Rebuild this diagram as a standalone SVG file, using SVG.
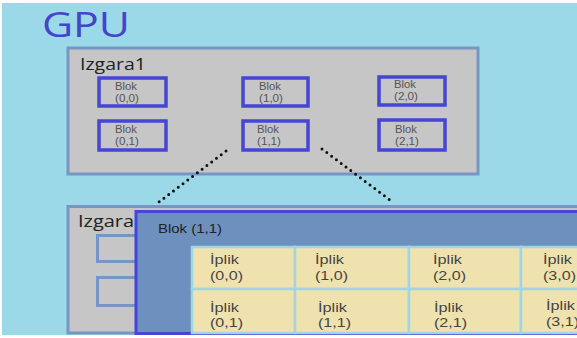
<svg xmlns="http://www.w3.org/2000/svg" width="577" height="338" viewBox="0 0 577 338">
<style>
.grid{fill:#c6c6c6;stroke:#7896c4;stroke-width:3}
.blk{fill:none;stroke:#4646d6;stroke-width:3.5}
.sub{fill:none;stroke:#7896c4;stroke-width:3}
.bt{font-family:"Liberation Sans",Arial,sans-serif;font-size:10.5px;fill:#555}
.lbl{font-family:"Open Sans","Liberation Sans",sans-serif;font-size:16px;fill:#222}
.cell{fill:#f0e2ae;stroke:#9ed6e6;stroke-width:2.5}
.tt{font-family:"Liberation Sans",Arial,sans-serif;font-size:13px;fill:#444}
.dot{fill:none;stroke:#111;stroke-width:3;stroke-linecap:round;stroke-dasharray:0 6}
</style>
<rect width="577" height="338" fill="#ffffff"/>
<rect x="2" y="3" width="575" height="332" fill="#9bd9e9"/>
<text x="42" y="37" font-family="Open Sans,Liberation Sans,sans-serif" font-size="34" fill="#4444cc" textLength="88" lengthAdjust="spacingAndGlyphs">GPU</text>
<g id="izgara1">
<rect class="grid" x="68" y="48" width="410" height="126"/>
<text class="lbl" x="80" y="70" textLength="66" lengthAdjust="spacingAndGlyphs">Izgara1</text>
</g>
<g id="blok00"><rect class="blk" x="99" y="78" width="67" height="28"/><text class="bt"><tspan x="115" y="90" textLength="22" lengthAdjust="spacingAndGlyphs">Blok</tspan><tspan x="115" y="102" textLength="24" lengthAdjust="spacingAndGlyphs">(0,0)</tspan></text></g>
<g id="blok10"><rect class="blk" x="243" y="78" width="65" height="28"/><text class="bt"><tspan x="259" y="90" textLength="22" lengthAdjust="spacingAndGlyphs">Blok</tspan><tspan x="259" y="102" textLength="24" lengthAdjust="spacingAndGlyphs">(1,0)</tspan></text></g>
<g id="blok20"><rect class="blk" x="379" y="77" width="66" height="28"/><text class="bt"><tspan x="394" y="88" textLength="22" lengthAdjust="spacingAndGlyphs">Blok</tspan><tspan x="394" y="100" textLength="24" lengthAdjust="spacingAndGlyphs">(2,0)</tspan></text></g>
<g id="blok01"><rect class="blk" x="99" y="121" width="67" height="29"/><text class="bt"><tspan x="115" y="133" textLength="22" lengthAdjust="spacingAndGlyphs">Blok</tspan><tspan x="115" y="145" textLength="24" lengthAdjust="spacingAndGlyphs">(0,1)</tspan></text></g>
<g id="blok11"><rect class="blk" x="243" y="121" width="65" height="29"/><text class="bt"><tspan x="257" y="133" textLength="22" lengthAdjust="spacingAndGlyphs">Blok</tspan><tspan x="257" y="145" textLength="24" lengthAdjust="spacingAndGlyphs">(1,1)</tspan></text></g>
<g id="blok21"><rect class="blk" x="379" y="120" width="66" height="30"/><text class="bt"><tspan x="395" y="133" textLength="22" lengthAdjust="spacingAndGlyphs">Blok</tspan><tspan x="395" y="145" textLength="24" lengthAdjust="spacingAndGlyphs">(2,1)</tspan></text></g>
<g id="connectors">
<line class="dot" x1="226" y1="151" x2="155" y2="205"/>
<line class="dot" x1="322" y1="149" x2="394" y2="203"/>
</g>
<g id="izgara">
<rect class="grid" x="68" y="206.5" width="512" height="126.5"/>
<text class="lbl" x="78" y="227" textLength="56" lengthAdjust="spacingAndGlyphs">Izgara</text>
<rect class="sub" x="97.5" y="235.5" width="60" height="26"/>
<rect class="sub" x="97.5" y="277.5" width="60" height="28"/>
</g>
<g id="blok11-detail">
<rect x="136" y="211.5" width="445" height="122" fill="#6e90bf" stroke="#4646d6" stroke-width="3"/>
<text x="158" y="233" font-family="Liberation Sans,Arial,sans-serif" font-size="12.5" fill="#222" textLength="64" lengthAdjust="spacingAndGlyphs">Blok (1,1)</text>
</g>
<g id="t00"><rect class="cell" x="192" y="247" width="103" height="42"/><text class="tt"><tspan x="210" y="264" textLength="29" lengthAdjust="spacingAndGlyphs">İplik</tspan><tspan x="210" y="280" textLength="33" lengthAdjust="spacingAndGlyphs">(0,0)</tspan></text></g>
<g id="t10"><rect class="cell" x="295" y="247" width="114" height="42"/><text class="tt"><tspan x="315" y="264" textLength="29" lengthAdjust="spacingAndGlyphs">İplik</tspan><tspan x="315" y="280" textLength="33" lengthAdjust="spacingAndGlyphs">(1,0)</tspan></text></g>
<g id="t20"><rect class="cell" x="409" y="247" width="112" height="42"/><text class="tt"><tspan x="433" y="264" textLength="29" lengthAdjust="spacingAndGlyphs">İplik</tspan><tspan x="433" y="280" textLength="33" lengthAdjust="spacingAndGlyphs">(2,0)</tspan></text></g>
<g id="t30"><rect class="cell" x="521" y="247" width="60" height="42"/><text class="tt"><tspan x="543" y="264" textLength="29" lengthAdjust="spacingAndGlyphs">İplik</tspan><tspan x="543" y="280" textLength="33" lengthAdjust="spacingAndGlyphs">(3,0)</tspan></text></g>
<g id="t01"><rect class="cell" x="192" y="289" width="103" height="44"/><text class="tt"><tspan x="210" y="312" textLength="29" lengthAdjust="spacingAndGlyphs">İplik</tspan><tspan x="210" y="327" textLength="33" lengthAdjust="spacingAndGlyphs">(0,1)</tspan></text></g>
<g id="t11"><rect class="cell" x="295" y="289" width="114" height="44"/><text class="tt"><tspan x="318" y="312" textLength="29" lengthAdjust="spacingAndGlyphs">İplik</tspan><tspan x="318" y="327" textLength="33" lengthAdjust="spacingAndGlyphs">(1,1)</tspan></text></g>
<g id="t21"><rect class="cell" x="409" y="289" width="112" height="44"/><text class="tt"><tspan x="434" y="312" textLength="29" lengthAdjust="spacingAndGlyphs">İplik</tspan><tspan x="434" y="327" textLength="33" lengthAdjust="spacingAndGlyphs">(2,1)</tspan></text></g>
<g id="t31"><rect class="cell" x="521" y="289" width="60" height="44"/><text class="tt"><tspan x="546" y="310" textLength="29" lengthAdjust="spacingAndGlyphs">İplik</tspan><tspan x="546" y="326" textLength="33" lengthAdjust="spacingAndGlyphs">(3,1)</tspan></text></g>
<rect x="0" y="335" width="577" height="3" fill="#ffffff"/>
</svg>
